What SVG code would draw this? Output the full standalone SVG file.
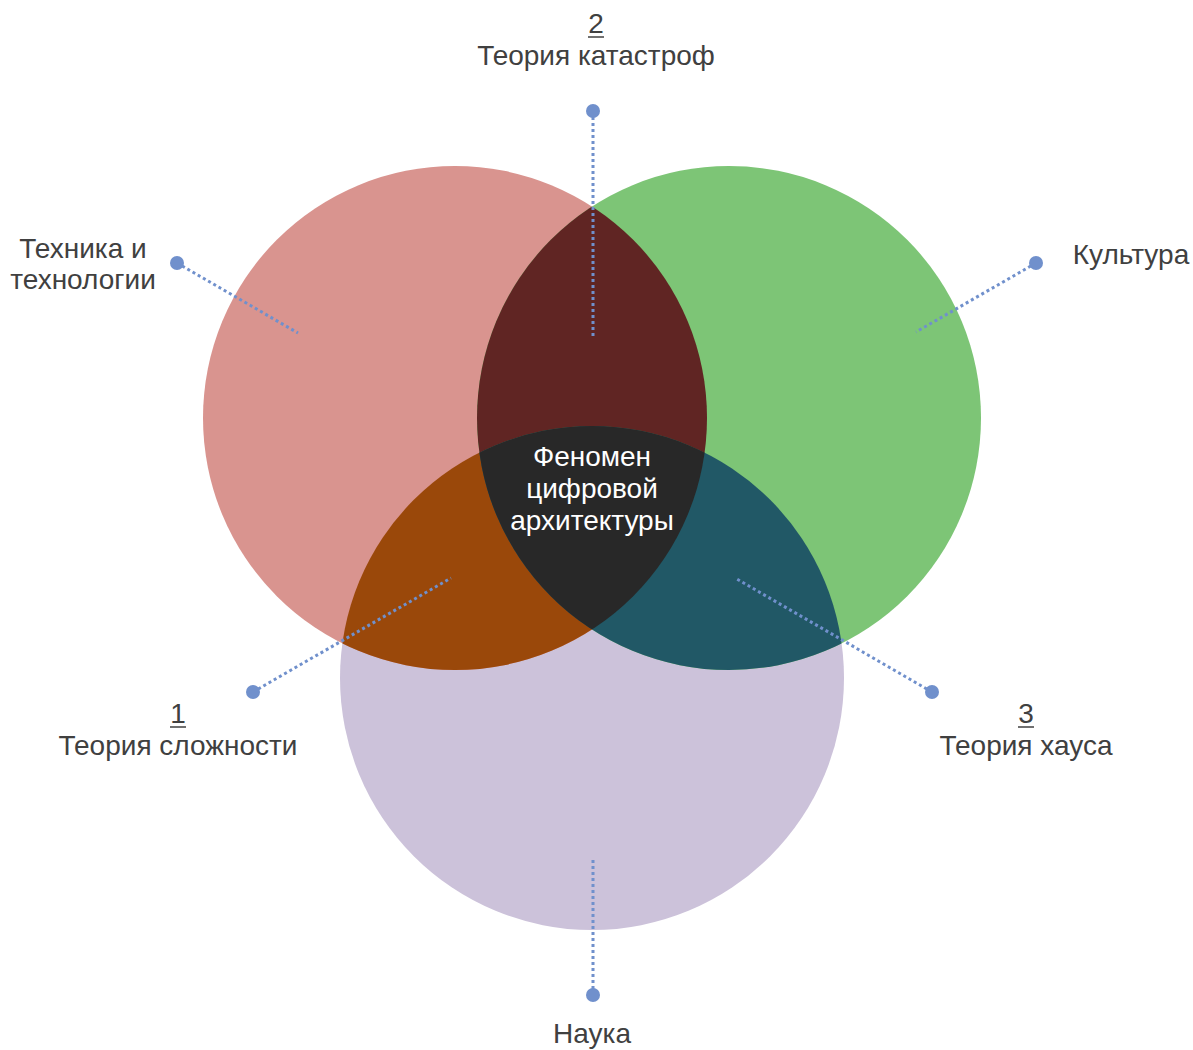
<svg xmlns="http://www.w3.org/2000/svg" width="1193" height="1050" viewBox="0 0 1193 1050">
  <style>
    .lbl { font-family: "Liberation Sans", Arial, sans-serif; font-size: 28px; fill: #404040; text-anchor: middle; }
    .ctr { font-family: "Liberation Sans", Arial, sans-serif; font-size: 28px; fill: #ffffff; text-anchor: middle; }
    .lead { stroke: #7090CC; stroke-width: 3; stroke-dasharray: 3 3; fill: none; }
    .dot { fill: #7090CC; }
    .ul { stroke: #404040; stroke-width: 1.5; }
  </style>
  <defs>
    <circle id="cTech" cx="455" cy="418" r="252"/>
    <circle id="cCult" cx="729" cy="418" r="252"/>
    <circle id="cSci" cx="592" cy="678" r="252"/>
    <clipPath id="clipCult"><use href="#cCult"/></clipPath>
    <clipPath id="clipSci"><use href="#cSci"/></clipPath>
    <clipPath id="clipTech"><use href="#cTech"/></clipPath>
  </defs>

  <!-- base circles -->
  <g id="science"><use href="#cSci" fill="#CCC2DA"/></g>
  <g id="technology"><use href="#cTech" fill="#D9948F"/></g>
  <g id="culture"><use href="#cCult" fill="#7DC576"/></g>

  <!-- pairwise overlaps -->
  <g id="catastrophe-zone"><use href="#cTech" fill="#602523" clip-path="url(#clipCult)"/></g>
  <g id="complexity-zone"><use href="#cTech" fill="#9A480A" clip-path="url(#clipSci)"/></g>
  <g id="chaos-zone"><use href="#cCult" fill="#215866" clip-path="url(#clipSci)"/></g>

  <!-- triple overlap -->
  <g id="phenomenon">
    <g clip-path="url(#clipTech)">
      <use href="#cCult" fill="#282828" clip-path="url(#clipSci)"/>
    </g>
    <text class="ctr" x="592" y="466">Феномен</text>
    <text class="ctr" x="592" y="498">цифровой</text>
    <text class="ctr" x="592" y="530">архитектуры</text>
  </g>

  <!-- leader lines -->
  <g id="connectors">
    <line class="lead" x1="177" y1="263" x2="298" y2="333"/>
    <circle class="dot" cx="177" cy="263" r="7"/>
    <line class="lead" x1="593" y1="111" x2="593" y2="338"/>
    <circle class="dot" cx="593" cy="111" r="7"/>
    <line class="lead" x1="1036" y1="263" x2="916" y2="332"/>
    <circle class="dot" cx="1036" cy="263" r="7"/>
    <line class="lead" x1="253" y1="692" x2="451" y2="578"/>
    <circle class="dot" cx="253" cy="692" r="7"/>
    <line class="lead" x1="932" y1="692" x2="735" y2="578"/>
    <circle class="dot" cx="932" cy="692" r="7"/>
    <line class="lead" x1="593" y1="995" x2="593" y2="857"/>
    <circle class="dot" cx="593" cy="995" r="7"/>
  </g>

  <!-- outer labels -->
  <g id="label-technology">
    <text class="lbl" x="83" y="258">Техника и</text>
    <text class="lbl" x="83" y="289">технологии</text>
  </g>
  <g id="label-catastrophe">
    <text class="lbl" x="596" y="33">2</text>
    <line class="ul" x1="588" y1="37" x2="604" y2="37"/>
    <text class="lbl" x="596" y="65">Теория катастроф</text>
  </g>
  <g id="label-culture">
    <text class="lbl" x="1131" y="264">Культура</text>
  </g>
  <g id="label-complexity">
    <text class="lbl" x="178" y="723">1</text>
    <line class="ul" x1="170" y1="727" x2="186" y2="727"/>
    <text class="lbl" x="178" y="755">Теория сложности</text>
  </g>
  <g id="label-chaos">
    <text class="lbl" x="1026" y="723">3</text>
    <line class="ul" x1="1018" y1="727" x2="1034" y2="727"/>
    <text class="lbl" x="1026" y="755">Теория хауса</text>
  </g>
  <g id="label-science">
    <text class="lbl" x="592" y="1043">Наука</text>
  </g>
</svg>
